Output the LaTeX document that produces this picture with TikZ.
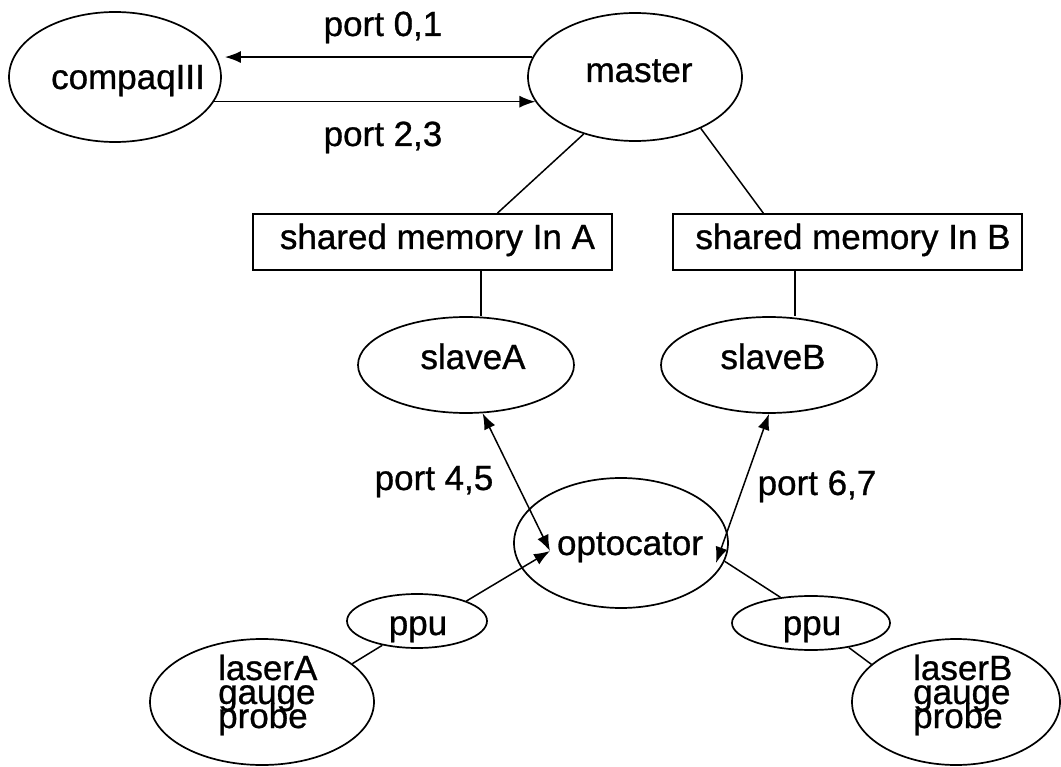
\documentclass[tikz,border=0pt]{standalone}
\usepackage{fontspec}
\setmainfont{Liberation Sans}[FakeBold=0.8]
\usetikzlibrary{shapes.geometric,arrows.meta,calc}
\begin{document}
\begin{tikzpicture}[x=1pt,y=-1pt,
  every node/.style={inner sep=0pt, font=\fontsize{35}{40}\selectfont},
  oval/.style={draw, ellipse, line width=1.7pt},
  membox/.style={draw, rectangle, line width=1.7pt},
  txt/.style={anchor=base},
  conn/.style={line width=1.5pt},
  arr/.style={conn, -{Latex[length=16pt,width=12pt]}},
  darr/.style={conn, {Latex[length=16pt,width=12pt]}-{Latex[length=16pt,width=12pt]}},
]
\useasboundingbox (0,0) rectangle (1061,767);

% ellipses
\node[oval, minimum width=212pt, minimum height=130pt] (compaq) at (115,77) {};
\node[oval, minimum width=214pt, minimum height=128pt] (master) at (635,77) {};
\node[oval, minimum width=216pt, minimum height=96pt] (slaveA) at (466,365) {};
\node[oval, minimum width=216pt, minimum height=96pt] (slaveB) at (769,365) {};
\node[oval, minimum width=214pt, minimum height=130pt] (opto) at (621,543) {};
\node[oval, minimum width=140pt, minimum height=54pt] (ppuA) at (417,621) {};
\node[oval, minimum width=158pt, minimum height=54pt] (ppuB) at (811,623) {};
\node[oval, minimum width=224pt, minimum height=126pt] (laserA) at (262,702) {};
\node[oval, minimum width=208pt, minimum height=126pt] (laserB) at (956,702) {};

% boxes
\node[membox, minimum width=359pt, minimum height=56pt] (boxA) at (432.5,242) {};
\node[membox, minimum width=349pt, minimum height=56pt] (boxB) at (847.5,242) {};
\node[txt] (boxAT) at (437.5,249) {shared memory In A};
\node[txt] (boxBT) at (853,249) {shared memory In B};

% texts
\node[txt] (compaqT) at (128,89) {compaqIII};
\node[txt] (masterT) at (639,82) {master};
\node[txt] (slaveAT) at (473,369) {slaveA};
\node[txt] (slaveBT) at (773,369) {slaveB};
\node[txt] (optoT) at (630,555) {optocator};
\node[txt] (ppuAT) at (418,635) {ppu};
\node[txt] (ppuBT) at (812,635) {ppu};
\node[anchor=base west] (laserAT) at (218,680)
  {\vtop{\baselineskip=24pt\lineskiplimit=-100pt\hbox{laserA}\hbox{gauge}\hbox{probe}}};
\node[anchor=base west] (laserBT) at (913,680)
  {\vtop{\baselineskip=24pt\lineskiplimit=-100pt\hbox{laserB}\hbox{gauge}\hbox{probe}}};

% connector labels
\node[txt] (p01) at (383,36) {port 0,1};
\node[txt] (p23) at (383,146) {port 2,3};
\node[txt] (p45) at (434,490) {port 4,5};
\node[txt] (p67) at (817,495) {port 6,7};

% helper coordinates
\coordinate (optoL) at (550,551);
\coordinate (optoR) at (716,563);
\coordinate (aTop) at ($(boxA.south west)!0.635!(boxA.south east)$);
\coordinate (bTop) at ($(boxB.south west)!0.35!(boxB.south east)$);

% connectors
\draw[arr, shorten >=8pt] (master.169) -- (master.169 -| compaq.11);
\draw[arr] (compaq.346) -- (compaq.346 -| master.194);
\draw[conn] (master.228) -- ($(boxA.north west)!0.68!(boxA.north east)$);
\draw[conn] (master.322) -- ($(boxB.north west)!0.26!(boxB.north east)$);
\draw[conn] (aTop) -- (aTop |- slaveA.north);
\draw[conn] (bTop) -- (bTop |- slaveB.north);
\draw[darr] (slaveA.289) -- (optoL);
\draw[darr] (slaveB.south) -- (optoR);
\draw[arr] (ppuA.22) -- (optoL);
\draw[conn] (ppuB.140) -- (opto.350);
\draw[conn] (ppuA.215) -- (laserA.23);
\draw[conn] (ppuB.327) -- (laserB.156);
\end{tikzpicture}
\end{document}
